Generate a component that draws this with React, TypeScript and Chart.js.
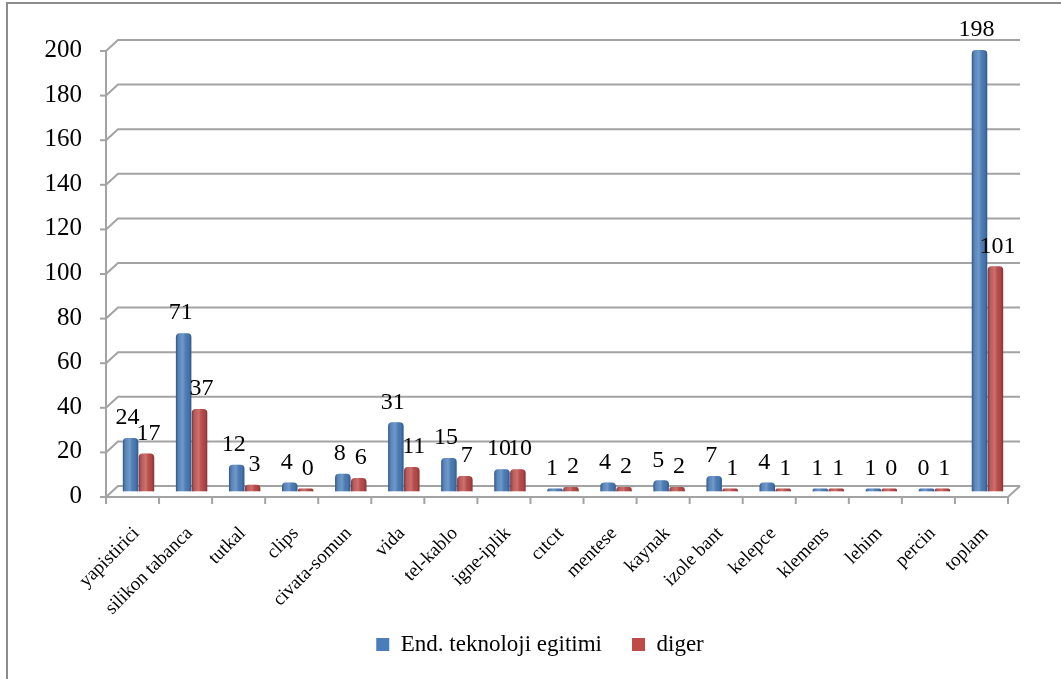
import React, { useEffect, useRef } from "react";
import { Chart, registerables } from "chart.js";
Chart.register(...registerables);

const categories = [
  "yapistirici", "silikon tabanca", "tutkal", "clips", "civata-somun", "vida",
  "tel-kablo", "igne-iplik", "cıtcıt", "mentese", "kaynak", "izole bant",
  "kelepce", "klemens", "lehim", "percin", "toplam",
];
const seriesEnd = [24, 71, 12, 4, 8, 31, 15, 10, 1, 4, 5, 7, 4, 1, 1, 0, 198];
const seriesDiger = [17, 37, 3, 0, 6, 11, 7, 10, 2, 2, 2, 1, 1, 1, 0, 1, 101];
const seriesNames = ["End. teknoloji egitimi", "diger"];
const yTicks = [0, 20, 40, 60, 80, 100, 120, 140, 160, 180, 200];

const FONT = '"Liberation Serif", "Times New Roman", serif';
const DX = 6;
const DY = 5.5;

const grid3d = {
  id: "grid3d",
  beforeDatasetsDraw(chart: any) {
    const { ctx, chartArea, scales } = chart;
    const y = scales.y;
    const x = scales.x;
    const L = chartArea.left;
    const R = chartArea.right;
    ctx.save();
    ctx.strokeStyle = "#a3a3a3";
    ctx.lineWidth = 2;
    yTicks.forEach((v) => {
      const py = y.getPixelForValue(v);
      ctx.beginPath();
      ctx.moveTo(L - DX, py + DY);
      ctx.lineTo(L + DX, py - DY);
      ctx.lineTo(R + DX, py - DY);
      ctx.stroke();
      ctx.beginPath();
      ctx.moveTo(L - DX - 6, py + DY);
      ctx.lineTo(L - DX, py + DY);
      ctx.stroke();
    });
    const y0 = y.getPixelForValue(0);
    const yTop = y.getPixelForValue(200);
    ctx.beginPath();
    ctx.moveTo(L - DX, y0 + DY);
    ctx.lineTo(L - DX, yTop + DY);
    ctx.stroke();
    ctx.beginPath();
    ctx.moveTo(L - DX, y0 + DY);
    ctx.lineTo(R - DX, y0 + DY);
    ctx.lineTo(R + DX, y0 - DY);
    ctx.stroke();
    const n = categories.length;
    const w = (R - L) / n;
    for (let i = 0; i <= n; i++) {
      const px = (i < n ? x.getPixelForValue(i) - w / 2 : x.getPixelForValue(n - 1) + w / 2) - DX;
      ctx.beginPath();
      ctx.moveTo(px, y0 + DY);
      ctx.lineTo(px, y0 + DY + 7);
      ctx.stroke();
    }
    ctx.restore();
  },
};

const barShade = {
  id: "barShade",
  afterDatasetsDraw(chart: any) {
    const { ctx } = chart;
    ctx.save();
    chart.data.datasets.forEach((ds: any, di: number) => {
      const meta = chart.getDatasetMeta(di);
      meta.data.forEach((el: any, i: number) => {
        const { x, y, base, width } = el.getProps(["x", "y", "base", "width"], true);
        const left = x - width / 2;
        const g = ctx.createLinearGradient(left, 0, left + width, 0);
        g.addColorStop(0, "rgba(0,0,30,0.35)");
        g.addColorStop(0.3, "rgba(255,255,255,0.12)");
        g.addColorStop(0.45, "rgba(255,255,255,0.22)");
        g.addColorStop(0.8, "rgba(0,0,0,0.05)");
        g.addColorStop(1, "rgba(0,0,30,0.3)");
        ctx.fillStyle = g;
        ctx.beginPath();
        const h = Math.max(base - y, 0);
        const r = Math.min(4, width / 2, h);
        ctx.roundRect(left, y, width, h, [r, r, 0, 0]);
        ctx.fill();
        ctx.fillStyle = "#000";
        ctx.font = `24px ${FONT}`;
        ctx.textAlign = "center";
        ctx.textBaseline = "bottom";
        const v = ds.data[i];
        ctx.fillText(String(v), x + (di === 0 ? -3 : 2), y - 8);
      });
    });
    ctx.restore();
  },
};

export default function App() {
  const ref = useRef<HTMLCanvasElement | null>(null);
  useEffect(() => {
    document.body.style.margin = "0";
    const canvas = ref.current;
    if (!canvas) return;
    const chart = new Chart(canvas, {
      type: "bar",
      data: {
        labels: categories,
        datasets: [
          {
            label: seriesNames[0],
            data: seriesEnd,
            backgroundColor: "#4a7ebb",
            borderWidth: 0,
            borderRadius: { topLeft: 4, topRight: 4, bottomLeft: 0, bottomRight: 0 },
            borderSkipped: false,
            minBarLength: 3,
            categoryPercentage: 0.6,
            barPercentage: 0.97,
          },
          {
            label: seriesNames[1],
            data: seriesDiger,
            backgroundColor: "#be4b48",
            borderWidth: 0,
            borderRadius: { topLeft: 4, topRight: 4, bottomLeft: 0, bottomRight: 0 },
            borderSkipped: false,
            minBarLength: 3,
            categoryPercentage: 0.6,
            barPercentage: 0.97,
          },
        ],
      },
      options: {
        animation: false,
        responsive: true,
        maintainAspectRatio: false,
        layout: { padding: { left: 19, right: 0, top: 45.5, bottom: 13 } },
        plugins: {
          legend: {
            position: "bottom",
            labels: {
              boxWidth: 13,
              boxHeight: 13,
              padding: 30,
              color: "#000",
              font: { family: FONT, size: 23 },
            },
          },
          tooltip: { enabled: false },
        },
        scales: {
          x: {
            grid: { display: false, drawTicks: false },
            border: { display: false },
            ticks: {
              color: "#000",
              font: { family: FONT, size: 19 },
              maxRotation: 45,
              minRotation: 45,
              padding: 31,
              labelOffset: -2,
              autoSkip: false,
            },
            afterFit: (s: any) => {
              s.height = 111.5;
              s._computeLabelArea = () => undefined;
            },
          },
          y: {
            min: 0,
            max: 200,
            afterBuildTicks: (s: any) => {
              s.ticks = yTicks.map((v) => ({ value: v }));
            },
            grid: { display: false, drawTicks: false },
            border: { display: false },
            ticks: {
              color: "#000",
              font: { family: FONT, size: 25 },
              padding: 30,
              labelOffset: 5,
            },
            afterFit: (s: any) => {
              s.width = 93;
            },
          },
          y2: {
            position: "right",
            display: true,
            grid: { display: false, drawTicks: false },
            border: { display: false },
            ticks: { display: false },
            afterFit: (s: any) => {
              s.width = 47;
            },
          },
        },
      },
      plugins: [grid3d, barShade],
    });
    return () => chart.destroy();
  }, []);
  return (
    <div style={{ position: "relative", width: 1061, height: 679, overflow: "hidden", background: "#fff" }}>
      <div
        style={{
          position: "absolute",
          left: 6,
          top: 2,
          width: 1060,
          height: 680,
          borderLeft: "2px solid #8c8c8c",
          borderTop: "2px solid #8c8c8c",
          pointerEvents: "none",
        }}
      />
      <canvas ref={ref} />
    </div>
  );
}
